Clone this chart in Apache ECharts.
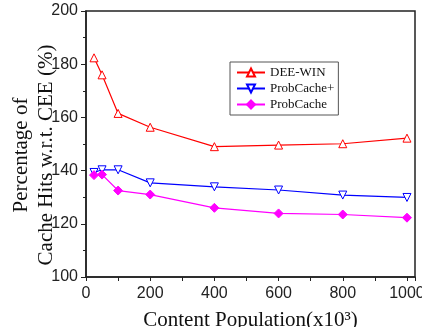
<!DOCTYPE html>
<html><head><meta charset="utf-8">
<script src="https://cdn.jsdelivr.net/npm/echarts@6/dist/echarts.min.js"></script>
<style>html,body{margin:0;padding:0;background:#fff}#c{width:422px;height:327px}</style>
</head><body><div id="c"></div>
<script>
const populations = [25, 50, 100, 200, 400, 600, 800, 1000];
const deeWin = [182.4, 176.0, 161.5, 156.3, 149.0, 149.6, 150.1, 152.2];
const probCachePlus = [139.3, 140.3, 140.3, 135.4, 133.9, 132.7, 130.8, 129.9];
const probCache = [138.3, 138.5, 132.5, 131.0, 126.0, 123.9, 123.5, 122.3];
const seriesNames = ['DEE-WIN', 'ProbCache+', 'ProbCache'];

const pairs = v => populations.map((x, i) => [x, v[i]]);
const chart = echarts.init(document.getElementById('c'));
const serif = '"Liberation Serif", "Times New Roman", serif';
const sans = '"Liberation Sans", Arial, sans-serif';
chart.setOption({
  animation: false,
  grid: { left: 86, top: 11, right: 7, bottom: 50, show: true, borderColor: '#222', borderWidth: 1.5,
    containLabel: false, outerBoundsMode: 'none' },
  legend: {
    orient: 'vertical', left: 230, top: 62, padding: [4, 4, 4, 6], itemGap: 3,
    itemWidth: 28, itemHeight: 10,
    borderColor: '#555', borderWidth: 1, borderRadius: 0,
    textStyle: { fontFamily: serif, fontSize: 13, color: '#111' },
    data: seriesNames
  },
  xAxis: {
    type: 'value', min: 0, max: 1025, interval: 100,
    name: 'Content Population(x10³)', nameLocation: 'middle', nameGap: 33, nameMoveOverlap: false,
    nameTextStyle: { fontFamily: serif, fontSize: 21, color: '#111' },
    axisLine: { lineStyle: { color: '#222', width: 1.5 } },
    axisTick: { inside: false, length: 4, lineStyle: { color: '#222' } },
    axisLabel: { fontFamily: sans, fontSize: 16, color: '#222', margin: 9,
      formatter: v => (v % 200 === 0 ? String(v) : '') },
    splitLine: { show: false }
  },
  yAxis: {
    type: 'value', min: 100, max: 200, interval: 20,
    name: 'Percentage of\nCache Hits w.r.t. CEE (%)', nameLocation: 'middle', nameGap: 27,
    nameRotate: 90, nameMoveOverlap: false,
    nameTextStyle: { fontFamily: serif, fontSize: 21, color: '#111', lineHeight: 25, padding: [0, 22, 0, 0] },
    axisLine: { lineStyle: { color: '#222', width: 1.5 } },
    axisTick: { inside: false, length: 5, lineStyle: { color: '#222' } },
    minorTick: { show: true, splitNumber: 2, length: 3, lineStyle: { color: '#222' } },
    axisLabel: { fontFamily: sans, fontSize: 16, color: '#222', margin: 8 },
    splitLine: { show: false }
  },
  series: [
    { name: seriesNames[0], type: 'line', data: pairs(deeWin), color: '#ff0000',
      symbol: 'triangle', symbolSize: 8, showAllSymbol: true,
      itemStyle: { color: '#fff', borderColor: '#ff0000', borderWidth: 1 },
      lineStyle: { color: '#ff0000', width: 1.2 } },
    { name: seriesNames[1], type: 'line', data: pairs(probCachePlus), color: '#0000ff',
      symbol: 'triangle', symbolRotate: 180, symbolSize: 8,
      itemStyle: { color: '#fff', borderColor: '#0000ff', borderWidth: 1 },
      lineStyle: { color: '#0000ff', width: 1.2 } },
    { name: seriesNames[2], type: 'line', data: pairs(probCache), color: '#ff00ff',
      symbol: 'diamond', symbolSize: 9,
      itemStyle: { color: '#ff00ff', borderColor: '#ff00ff', borderWidth: 1 },
      lineStyle: { color: '#ff00ff', width: 1.2 } }
  ]
});
</script></body></html>
